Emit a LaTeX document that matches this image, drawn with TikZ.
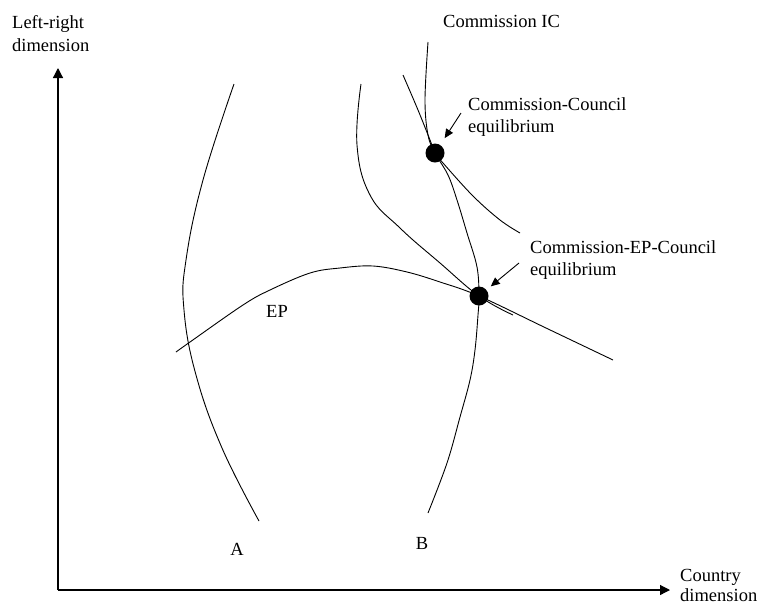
\documentclass[tikz,border=0pt]{standalone}
\usepackage{fontspec}
\setmainfont{Liberation Serif}
\usetikzlibrary{arrows.meta}
\begin{document}
\begin{tikzpicture}[x=1pt,y=-1pt,
  lbl/.style={inner sep=0pt, font=\fontsize{18.5}{22.5}\selectfont, align=left},
  curve/.style={line width=0.9pt},
  axis/.style={line width=1.2pt, -{Triangle[length=10pt,width=10pt]}},
  ptr/.style={line width=0.9pt, -{Triangle[length=9pt,width=8pt]}},
  eqdot/.style={circle, fill=black, minimum size=19pt, inner sep=0pt}]
\useasboundingbox (0,0) rectangle (760,606);

% axes
\coordinate (origin) at (58,590);
\coordinate (ytip) at (58,68);
\coordinate (xtip) at (670,590);
\draw[axis] (origin) -- (ytip);
\draw[axis] (origin) -- (xtip);

% equilibrium points
\coordinate (ccpos) at (435,153);
\coordinate (cecpos) at (479,296);

% curve A
\draw[curve] plot[smooth, tension=0.7] coordinates {(234,84) (203,180) (186,260) (184,310) (196,375) (222,448) (259,521)};

% EP curve
\draw[curve] plot[smooth, tension=0.6] coordinates {(176,352) (190,342) (243,305) (270,290) (310,273) (340,268) (373,266) (407,272) (440,282) (cecpos) (546,328) (613,360)};

% Commission IC (through both equilibria, down to B)
\draw[curve] plot[smooth, tension=0.6] coordinates {(428,42) (425,100) (428,135) (ccpos) (448,175) (457,200) (467,233) (477,267) (cecpos) (478,315) (475,350) (470,380) (460,417) (447,463) (428,513)};

% line through Commission-Council equilibrium
\draw[curve] plot[smooth, tension=0.6] coordinates {(403,75) (418,110) (430,140) (ccpos) (443,163) (473,196) (500,220) (520,233)};

% curve from top down to Commission-EP-Council equilibrium
\draw[curve] plot[smooth, tension=0.7] coordinates {(361,84) (357,145) (370,195) (400,228) (440,263) (cecpos) (513,315)};

\node[eqdot] (cc) at (ccpos) {};
\node[eqdot] (cec) at (cecpos) {};

% pointers
\coordinate (cctail) at (461,113);
\coordinate (cectail) at (519,263);
\draw[ptr, shorten >=8pt] (cctail) -- (cc);
\draw[ptr, shorten >=5.5pt] (cectail) -- (cec);

% labels
\node[lbl, anchor=north west] (ylab) at (12,15.4) {Left-right\\dimension};
\node[lbl, anchor=north west, font=\fontsize{18.5}{19.5}\selectfont] (xlab) at (680,569.4) {Country\\dimension};
\node[lbl, anchor=base west] (iclab) at (443,27) {Commission IC};
\node[lbl, anchor=north west] (cclab) at (468,97.4) {Commission-Council\\equilibrium};
\node[lbl, anchor=north west] (ceclab) at (530,240.4) {Commission-EP-Council\\equilibrium};
\node[lbl, anchor=base west] (eplab) at (266,317) {EP};
\node[lbl, anchor=base] (alab) at (237,555) {A};
\node[lbl, anchor=base] (blab) at (422,549) {B};
\end{tikzpicture}
\end{document}
